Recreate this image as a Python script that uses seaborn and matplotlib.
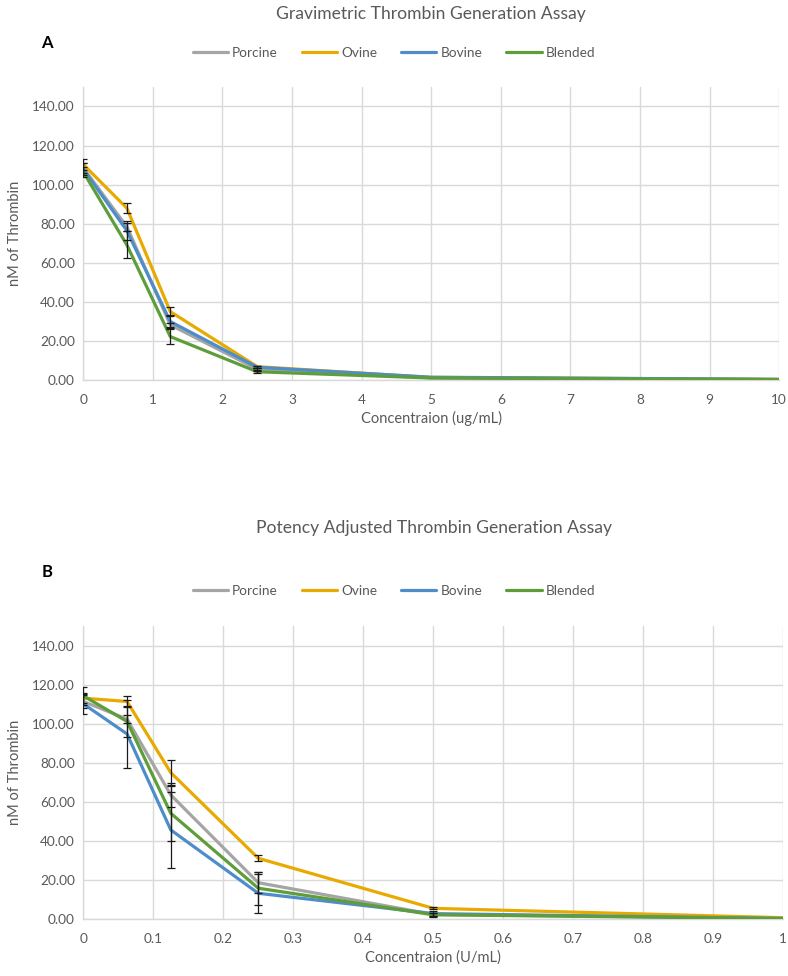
import matplotlib
matplotlib.use("Agg")
import matplotlib.pyplot as plt
import seaborn as sns
import pandas as pd
import numpy as np

# ---------------- data ----------------
series = ["Porcine", "Ovine", "Bovine", "Blended"]
colors = ["#A5A5A5", "#E8AA00", "#4E8DCA", "#5E9E3A"]

conc_a = [0, 0.625, 1.25, 2.5, 5, 10]
porcine_a = [108.5, 78.5, 28.2, 5.5, 1.1, 0.2]
ovine_a = [110.3, 88.0, 35.0, 6.8, 1.3, 0.3]
bovine_a = [108.0, 76.5, 29.9, 6.5, 1.4, 0.3]
blended_a = [106.5, 69.2, 22.2, 4.2, 1.0, 0.2]
porcine_a_err = [2.5, 2.0, 1.0, 0.6, 0, 0]
ovine_a_err = [2.8, 2.6, 2.3, 0.5, 0, 0]
bovine_a_err = [3.0, 5.0, 3.5, 0.5, 0, 0]
blended_a_err = [2.5, 7.0, 3.7, 0.5, 0, 0]

conc_b = [0, 0.0625, 0.125, 0.25, 0.5, 1]
porcine_b = [111.4, 102.4, 63.6, 18.7, 2.5, 0.5]
ovine_b = [113.1, 111.4, 75.0, 31.2, 5.6, 0.8]
bovine_b = [110.2, 94.8, 45.7, 13.3, 2.9, 0.4]
blended_b = [114.3, 101.2, 54.2, 15.9, 2.3, 0.4]
porcine_b_err = [3.5, 2.0, 6.0, 5.5, 0.8, 0]
ovine_b_err = [2.5, 3.0, 6.5, 1.5, 0.5, 0]
bovine_b_err = [5.0, 17.5, 19.6, 10.0, 1.2, 0]
blended_b_err = [4.7, 8.0, 14.0, 8.5, 1.0, 0]

xticks_a = list(range(0, 11))
xticks_b = [0, 0.1, 0.2, 0.3, 0.4, 0.5, 0.6, 0.7, 0.8, 0.9, 1]
yticks = [0, 20, 40, 60, 80, 100, 120, 140]

# ---------------- style ----------------
sns.set_theme(style="white")
plt.rcParams["font.family"] = ["Lato", "DejaVu Sans"]
TXT = "#595959"
GRID = "#D9D9D9"

fig = plt.figure(figsize=(7.88, 9.76), dpi=100)
ax_a = fig.add_axes([0.1057, 0.6107, 0.8832, 0.3002])
ax_b = fig.add_axes([0.1057, 0.0581, 0.8883, 0.3005])


def make_df(x, vals, errs):
    rows = []
    for name, v, e in zip(series, vals, errs):
        for xi, yi, ei in zip(x, v, e):
            rows.append({"Concentration": xi, "Thrombin": yi, "err": ei, "Type": name})
    return pd.DataFrame(rows)


df_a = make_df(conc_a, [porcine_a, ovine_a, bovine_a, blended_a],
               [porcine_a_err, ovine_a_err, bovine_a_err, blended_a_err])
df_b = make_df(conc_b, [porcine_b, ovine_b, bovine_b, blended_b],
               [porcine_b_err, ovine_b_err, bovine_b_err, blended_b_err])

palette = dict(zip(series, colors))


def draw(ax, df, xticks, xmax, xlabel, title, letter, ty, ly, lety, tx):
    sns.lineplot(data=df, x="Concentration", y="Thrombin", hue="Type",
                 hue_order=series, palette=palette, linewidth=2.3,
                 errorbar=None, estimator=None, sort=False, ax=ax, zorder=3,
                 legend=False)
    for name in series:
        sub = df[(df["Type"] == name) & (df["err"] > 0)]
        ax.errorbar(sub["Concentration"], sub["Thrombin"], yerr=sub["err"],
                    fmt="none", ecolor="#1a1a1a", elinewidth=0.9, capsize=3,
                    capthick=0.9, zorder=4)
    ax.set_xlim(0, xmax)
    ax.set_ylim(0, 150)
    ax.set_xticks(xticks)
    ax.set_xticklabels([f"{t:g}" for t in xticks])
    ax.set_yticks(yticks)
    ax.set_yticklabels([f"{t:.2f}" for t in yticks])
    ax.tick_params(axis="both", length=0, colors=TXT, labelsize=9.8)
    ax.tick_params(axis="x", pad=10)
    ax.tick_params(axis="y", pad=6)
    ax.grid(True, color=GRID, linewidth=1.0)
    ax.set_axisbelow(True)
    for s in ["top", "right"]:
        ax.spines[s].set_visible(False)
    for s in ["left", "bottom"]:
        ax.spines[s].set_color(GRID)
        ax.spines[s].set_linewidth(1.0)
    ax.set_xlabel(xlabel, color=TXT, fontsize=10.5, labelpad=4)
    ax.set_ylabel("nM of Thrombin", color=TXT, fontsize=10.5, labelpad=7)
    fig.text(tx, ty, title, ha="center", va="center", color=TXT, fontsize=12.6)
    fig.text(0.06, lety, letter, ha="center", va="center", color="black",
             fontsize=12, fontweight="bold")
    handles = [plt.Line2D([0], [0], color=c, lw=2.3) for c in colors]
    fig.legend(handles, series, loc="center", bbox_to_anchor=(0.5, ly),
               ncol=4, frameon=False, fontsize=9.8, labelcolor=TXT,
               handlelength=2.6, handletextpad=0.3, columnspacing=1.75)


draw(ax_a, df_a, xticks_a, 10, "Concentraion (ug/mL)",
     "Gravimetric Thrombin Generation Assay", "A", 0.9857, 0.9457, 0.956, 0.547)
draw(ax_b, df_b, xticks_b, 1, "Concentraion (U/mL)",
     "Potency Adjusted Thrombin Generation Assay", "B", 0.459, 0.3945, 0.414, 0.551)

fig.savefig("out.png", dpi=100, facecolor="white")
